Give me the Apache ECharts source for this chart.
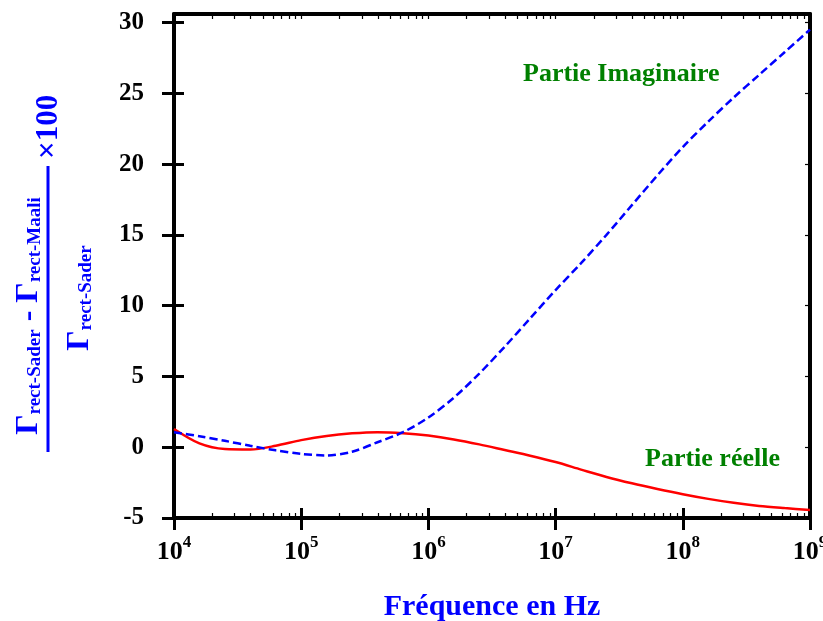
<!DOCTYPE html>
<html>
<head>
<meta charset="utf-8">
<script src="https://cdn.jsdelivr.net/npm/echarts@6/dist/echarts.min.js"></script>
<style>
  html, body { margin: 0; padding: 0; background: #fff; }
  #main { width: 823px; height: 621px; }
</style>
</head>
<body>
<div id="main"></div>
<script>
// frequences (Hz), pas de 10^0.2
var freq = [1e4, 1.585e4, 2.512e4, 3.981e4, 6.310e4,
            1e5, 1.585e5, 2.512e5, 3.981e5, 6.310e5,
            1e6, 1.585e6, 2.512e6, 3.981e6, 6.310e6,
            1e7, 1.585e7, 2.512e7, 3.981e7, 6.310e7,
            1e8, 1.585e8, 2.512e8, 3.981e8, 6.310e8,
            1e9];
// partie reelle (courbe rouge)
var partieReelle = [1.29, 0.27, -0.13, -0.16, 0.10,
                    0.50, 0.80, 0.98, 1.06, 0.99,
                    0.82, 0.55, 0.20, -0.20, -0.60,
                    -1.05, -1.58, -2.10, -2.55, -2.95,
                    -3.32, -3.65, -3.93, -4.15, -4.30,
                    -4.43];
// partie imaginaire (courbe bleue en tirets)
var partieImaginaire = [1.06, 0.78, 0.45, 0.10, -0.22,
                        -0.47, -0.58, -0.32, 0.35, 1.06,
                        2.10, 3.50, 5.20, 7.10, 9.10,
                        11.10, 13.00, 15.00, 17.10, 19.20,
                        21.20, 23.00, 24.70, 26.30, 27.90,
                        29.50];
var xTicks = [1e4, 1e5, 1e6, 1e7, 1e8, 1e9];
var yTicks = [-5, 0, 5, 10, 15, 20, 25, 30];

// positions des petites graduations (log10)
var decades = [4, 5, 6, 7, 8, 9];
var minorTicks = [];
decades.slice(0, 5).forEach(function (d) {
	for (var k = 2; k <= 9; k++) minorTicks.push(d + Math.log10(k));
});

var FONT = 'Liberation Serif';
var BLUE = '#0000ff';
var GREEN = '#008000';

var myChart = echarts.init(document.getElementById('main'));

var fracRich = {
	g: { fontFamily: FONT, fontWeight: 'bold', fontSize: 32, fill: BLUE, lineHeight: 32, verticalAlign: 'top' },
	s: { fontFamily: FONT, fontWeight: 'bold', fontSize: 19, fill: BLUE, lineHeight: 19, verticalAlign: 'bottom', padding: [17, 0, 0, 0] }
};

var option = {
	backgroundColor: '#fff',
	animation: false,
	grid: { left: 174, right: 13, top: 14, bottom: 103, outerBoundsMode: 'none', containLabel: false },
	xAxis: [{
		type: 'log',
		logBase: 10,
		min: 1e4,
		max: 1e9,
		position: 'bottom',
		axisLine: { onZero: false, lineStyle: { color: '#000', width: 4 } },
		axisTick: { show: true, inside: false, length: 12, customValues: xTicks, lineStyle: { color: '#000', width: 3 } },
		minorTick: { show: false },
		splitLine: { show: false },
		axisLabel: {
			customValues: xTicks,
			margin: 16,
			formatter: function (v) {
				return '{b|10}{e|' + Math.round(Math.log10(v)) + '}';
			},
			rich: {
				b: { fontFamily: FONT, fontWeight: 'bold', fontSize: 26, color: '#000', lineHeight: 31, verticalAlign: 'bottom' },
				e: { fontFamily: FONT, fontWeight: 'bold', fontSize: 17, color: '#000', lineHeight: 17, verticalAlign: 'top' }
			}
		},
		name: 'Fréquence en Hz',
		nameLocation: 'middle',
		nameGap: 74,
		nameTextStyle: { fontFamily: FONT, fontWeight: 'bold', fontSize: 30, color: BLUE }
	}, {
		type: 'value', min: 4, max: 9, position: 'bottom',
		axisLine: { show: false, onZero: false },
		axisTick: { show: true, inside: true, length: 10, customValues: decades, lineStyle: { color: '#000', width: 3 } },
		axisLabel: { show: false },
		splitLine: { show: false }
	}, {
		type: 'value', min: 4, max: 9, position: 'bottom',
		axisLine: { show: false, onZero: false },
		axisTick: { show: true, inside: true, length: 5, customValues: minorTicks, lineStyle: { color: '#000', width: 1.2 } },
		axisLabel: { show: false },
		splitLine: { show: false }
	}, {
		type: 'value', min: 4, max: 9, position: 'top',
		axisLine: { show: true, onZero: false, lineStyle: { color: '#000', width: 4 } },
		axisTick: { show: true, inside: true, length: 5, customValues: minorTicks.concat(decades), lineStyle: { color: '#000', width: 1.2 } },
		axisLabel: { show: false },
		splitLine: { show: false }
	}],
	yAxis: [{
		type: 'value', min: -5, max: 30.6, position: 'left',
		axisLine: { show: true, onZero: false, lineStyle: { color: '#000', width: 4 } },
		axisTick: { show: true, inside: false, length: 12, customValues: yTicks, lineStyle: { color: '#000', width: 3 } },
		axisLabel: { customValues: yTicks, margin: 30, fontFamily: FONT, fontWeight: 'bold', fontSize: 25, color: '#000' },
		splitLine: { show: false }
	}, {
		type: 'value', min: -5, max: 30.6, position: 'left',
		axisLine: { show: false, onZero: false },
		axisTick: { show: true, inside: true, length: 10, customValues: yTicks, lineStyle: { color: '#000', width: 3 } },
		axisLabel: { show: false },
		splitLine: { show: false }
	}, {
		type: 'value', min: -5, max: 30.6, position: 'right',
		axisLine: { show: true, onZero: false, lineStyle: { color: '#000', width: 4 } },
		axisTick: { show: true, inside: true, length: 5, customValues: yTicks, lineStyle: { color: '#000', width: 1.2 } },
		axisLabel: { show: false },
		splitLine: { show: false }
	}],
	series: [{
		name: 'Partie réelle',
		type: 'line',
		xAxisIndex: 0,
		yAxisIndex: 0,
		smooth: 0.3,
		showSymbol: false,
		lineStyle: { color: '#ff0000', width: 2.5 },
		data: freq.map(function (f, i) { return [f, partieReelle[i]]; })
	}, {
		name: 'Partie Imaginaire',
		type: 'line',
		xAxisIndex: 0,
		yAxisIndex: 0,
		smooth: 0.3,
		showSymbol: false,
		lineStyle: { color: BLUE, width: 2.5, type: [8, 4] },
		data: freq.map(function (f, i) { return [f, partieImaginaire[i]]; })
	}],
	graphic: [{
		type: 'text', left: 523, top: 61,
		style: { text: 'Partie Imaginaire', fill: GREEN, font: 'bold 26px "Liberation Serif"' }
	}, {
		type: 'text', left: 645, top: 446,
		style: { text: 'Partie réelle', fill: GREEN, font: 'bold 26px "Liberation Serif"' }
	}, {
		// titre de l'axe y : fraction tournee
		type: 'group', x: 48, y: 309, rotation: Math.PI / 2,
		children: [{
			type: 'line',
			shape: { x1: -143, y1: 0, x2: 143, y2: 0 },
			style: { stroke: BLUE, lineWidth: 3 }
		}, {
			type: 'text', x: -7, y: -19,
			style: {
				text: '{g|Γ}{s|rect-Sader}{g| - Γ}{s|rect-Maali}',
				align: 'center', verticalAlign: 'middle',
				rich: fracRich
			}
		}, {
			type: 'text', x: 11, y: 32,
			style: {
				text: '{g|Γ}{s|rect-Sader}',
				align: 'center', verticalAlign: 'middle',
				rich: fracRich
			}
		}, {
			type: 'text', x: 150, y: 1,
			style: { text: '×100', align: 'left', verticalAlign: 'middle', fill: BLUE, font: 'bold 31px "Liberation Serif"' }
		}]
	}]
};

myChart.setOption(option, true);
</script>
</body>
</html>
